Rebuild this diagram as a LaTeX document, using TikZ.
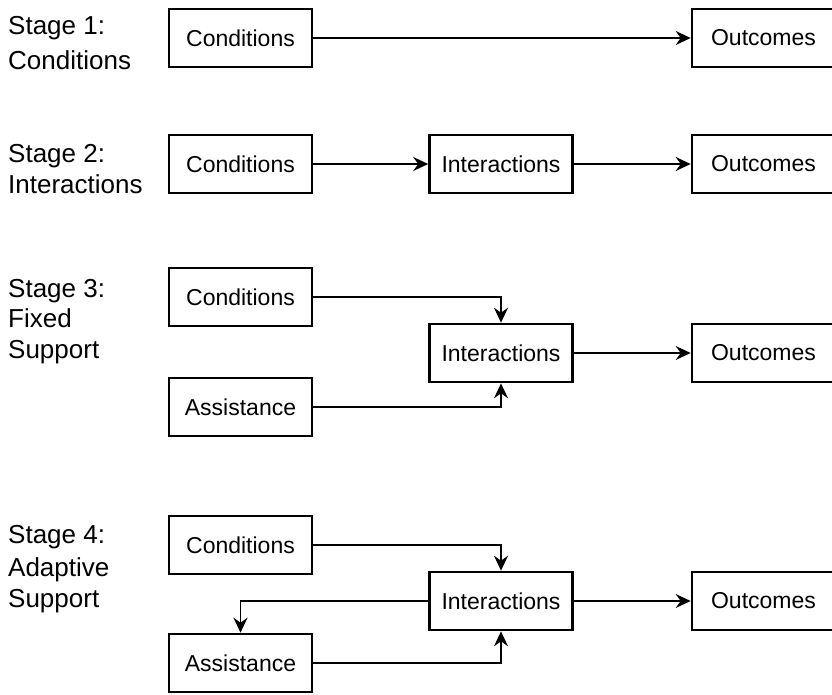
\documentclass[tikz,border=0pt]{standalone}
\usepackage{fontspec}
\setmainfont{Liberation Sans}
\usetikzlibrary{arrows.meta}
\begin{document}
\begin{tikzpicture}[x=1pt,y=-1pt,
  box/.style={draw, line width=2.6pt, minimum width=143pt, minimum height=58pt, inner sep=0pt, font=\fontsize{23}{27}\selectfont},
  lbl/.style={anchor=base west, inner sep=0pt, font=\fontsize{26}{31}\selectfont},
  conn/.style={line width=1.3pt, -{Stealth[length=15pt,width=14pt,inset=5pt]}}]
\useasboundingbox (0,0) rectangle (832,694);
\clip (0,0) rectangle (832,694);
% stage labels
\node[lbl] (s1a) at (8,34) {Stage 1:};
\node[lbl] (s1b) at (8,69) {Conditions};
\node[lbl] (s2a) at (8,162) {Stage 2:};
\node[lbl] (s2b) at (8,193) {Interactions};
\node[lbl] (s3a) at (8,297) {Stage 3:};
\node[lbl] (s3b) at (8,327) {Fixed};
\node[lbl] (s3c) at (8,358) {Support};
\node[lbl] (s4a) at (8,543) {Stage 4:};
\node[lbl] (s4b) at (8,576) {Adaptive};
\node[lbl] (s4c) at (8,607) {Support};
% stage 1
\node[box] (c1) at (240.5,38) {Conditions};
\node[box] (o1) at (763.5,38) {Outcomes};
% stage 2
\node[box] (c2) at (240.5,164) {Conditions};
\node[box] (i2) at (501,164) {Interactions};
\node[box] (o2) at (763.5,164) {Outcomes};
% stage 3
\node[box] (c3) at (240.5,297) {Conditions};
\node[box] (i3) at (501,353) {Interactions};
\node[box] (a3) at (240.5,407) {Assistance};
\node[box] (o3) at (763.5,353) {Outcomes};
% stage 4
\node[box] (c4) at (240.5,545) {Conditions};
\node[box] (i4) at (501,601) {Interactions};
\node[box] (a4) at (240.5,663) {Assistance};
\node[box] (o4) at (763.5,601) {Outcomes};
% connectors
\draw[conn] (c1) -- (o1);
\draw[conn] (c2) -- (i2);
\draw[conn] (i2) -- (o2);
\draw[conn] (c3.east) -| (i3.north);
\draw[conn] (a3.east) -| (i3.south);
\draw[conn] (i3) -- (o3);
\draw[conn] (c4.east) -| (i4.north);
\draw[conn] (a4.east) -| (i4.south);
\draw[conn] (i4.west) -| (a4.north);
\draw[conn] (i4) -- (o4);
\end{tikzpicture}
\end{document}
